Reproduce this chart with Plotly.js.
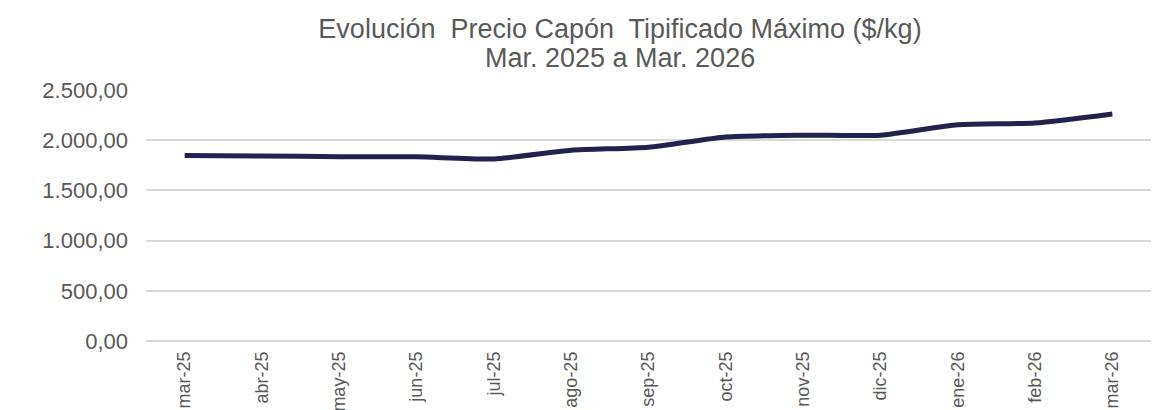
<!DOCTYPE html>
<html>
<head>
<meta charset="utf-8">
<script src="https://cdn.plot.ly/plotly-3.0.1.min.js"></script>
<style>
  html, body { margin: 0; padding: 0; background: #fff; }
  #chart { width: 1158px; height: 410px; }
</style>
</head>
<body>
<div id="chart"></div>
<script>
// meses (eje x)
let meses = ['mar-25', 'abr-25', 'may-25', 'jun-25', 'jul-25', 'ago-25', 'sep-25',
             'oct-25', 'nov-25', 'dic-25', 'ene-26', 'feb-26', 'mar-26'];
// precio capón tipificado máximo, $/kg
let precios = [1848, 1843, 1836, 1834, 1813, 1900, 1930, 2032, 2050, 2050, 2155, 2172, 2262];
let yTicks = [0, 500, 1000, 1500, 2000, 2500];

let gris = '#595959';

let layout = {
    width: 1158,
    height: 410,
    margin: {l: 146, r: 7, t: 90, b: 69},
    paper_bgcolor: '#ffffff',
    plot_bgcolor: '#ffffff',
    separators: ',.',
    showlegend: false,
    font: {family: 'Liberation Sans, Arial, sans-serif', color: gris},
    title: {
        text: 'Evolución  Precio Capón  Tipificado Máximo ($/kg)',
        font: {size: 27, color: gris},
        xref: 'container',
        x: 620 / 1158,
        xanchor: 'center',
        yref: 'container',
        y: 1 - 29 / 410,
        yanchor: 'middle'
    },
    annotations: [{
        text: 'Mar. 2025 a Mar. 2026',
        font: {size: 27, color: gris},
        xref: 'paper',
        yref: 'paper',
        x: (620 - 146) / 1005,
        y: 1 + (90 - 58) / 251,
        xanchor: 'center',
        yanchor: 'middle',
        showarrow: false
    }],
    xaxis: {
        type: 'category',
        range: [-0.5, 12.5],
        tickangle: -90,
        tickfont: {size: 18, color: gris},
        showgrid: false,
        showline: false,
        zeroline: false,
        ticks: '',
        ticklabelstandoff: 6
    },
    yaxis: {
        range: [0, 2500],
        tickvals: yTicks,
        tickformat: ',.2f',
        tickfont: {size: 22, color: gris},
        gridcolor: '#d9d9d9',
        gridwidth: 2,
        zeroline: true,
        zerolinecolor: '#d9d9d9',
        zerolinewidth: 2,
        showline: false,
        ticks: '',
        ticklabelstandoff: 17
    }
};

Plotly.newPlot('chart', [{
    type: 'scatter',
    mode: 'lines',
    x: meses,
    y: precios,
    line: {color: '#22224c', width: 5, shape: 'spline', smoothing: 0.6},
    hoverinfo: 'x+y'
}], layout, {displayModeBar: false, staticPlot: true});
</script>
</body>
</html>
